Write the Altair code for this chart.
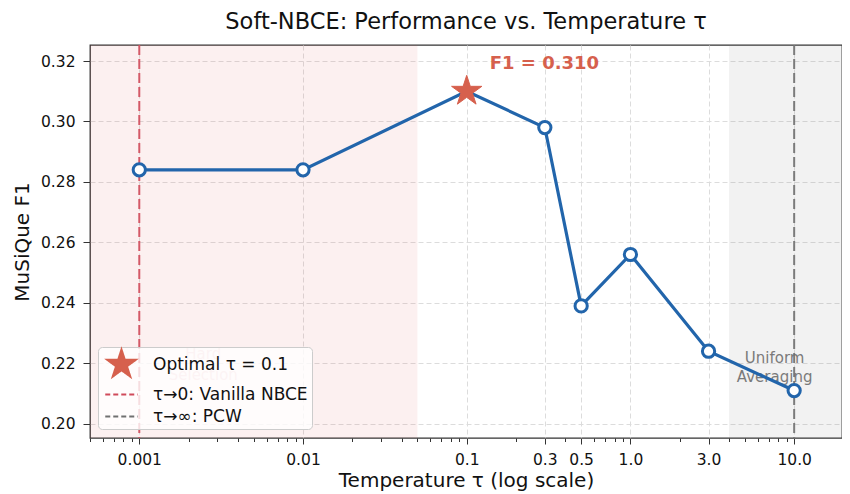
import math
import altair as alt
import pandas as pd

# ---------------- data ----------------
temps = [0.001, 0.01, 0.1, 0.3, 0.5, 1.0, 3.0, 10.0]
f1_scores = [0.284, 0.284, 0.310, 0.298, 0.239, 0.256, 0.224, 0.211]
best_temp = [0.1]
best_f1 = [0.310]
x_tick_values = [0.001, 0.01, 0.1, 0.3, 0.5, 1.0, 3.0, 10.0]
x_tick_labels = ["0.001", "0.01", "0.1", "0.3", "0.5", "1.0", "3.0", "10.0"]
y_tick_values = [0.20, 0.22, 0.24, 0.26, 0.28, 0.30, 0.32]
span_starts = [0.0005, 4.0]
span_ends = [0.05, 20.0]
span_names = ["hard", "uniform"]
ref_lines = [0.001, 10.0]
ref_names = ["vanilla", "pcw"]
legend_labels = ["Optimal τ = 0.1", "τ→0: Vanilla NBCE", "τ→∞: PCW"]
region_text = ["Hard\nSelection", "Uniform\nAveraging"]
region_text_x = [0.00246, 7.6]
region_text_y = [0.2232, 0.2218]

# ---------------- style ----------------
BLUE = "#2265ab"
STAR_RED = "#d6604d"
VLINE_RED = "#d04a5a"
GRAY = "#707070"
FONT = "DejaVu Sans"
x_domain = [0.0005, 19.6]
y_domain = [0.1953, 0.3253]

# minor ticks for log axis
minor = []
for e in range(-4, 2):
    for m in range(1, 10):
        v = float(f"{m}e{e}")
        if x_domain[0] <= v <= x_domain[1]:
            minor.append(v)
all_ticks = sorted(set(minor) | set(x_tick_values))

major_arr = "[" + ",".join(repr(v) for v in x_tick_values) + "]"
major_test = f"indexof({major_arr}, datum.value) >= 0"
label_expr = ""
for v, lab in zip(x_tick_values, x_tick_labels):
    label_expr += f"datum.value == {v!r} ? '{lab}' : "
label_expr += "''"


def star_path(R):
    pts = []
    for k in range(10):
        r = R if k % 2 == 0 else R * 0.382
        a = math.radians(-90 + 36 * k)
        pts.append(f"{r*math.cos(a):.4f},{r*math.sin(a):.4f}")
    return "M" + "L".join(pts) + "Z"


STAR_PLOT = star_path(1.3)
STAR_LEG = star_path(1.2)
LINE_SYM = "M-1.3,0L1.3,0"

xscale = alt.Scale(type="log", domain=x_domain, nice=False)
yscale = alt.Scale(domain=y_domain, nice=False, zero=False)

df = pd.DataFrame({"temp": temps, "f1": f1_scores})
df_best = pd.DataFrame({"temp": best_temp, "f1": best_f1,
                        "label": [f"F1 = {best_f1[0]:.3f}"]})
df_span = pd.DataFrame({"x0": span_starts, "x1": span_ends, "name": span_names})
df_ref = pd.DataFrame({"x": ref_lines, "name": ref_names})
df_txt = pd.DataFrame({"x": region_text_x, "y": region_text_y, "t": region_text})
df_leg = pd.DataFrame({"label": legend_labels, "x": [0.0001] * 3,
                       "y": [0.25] * 3})

x_axis = alt.Axis(
    values=all_ticks, labelExpr=label_expr, labelOverlap=False, labelFlush=False,
    labelBound=False,
    grid=True, gridDash=[5, 3], gridColor="#dcdcdc", gridWidth=1,
    gridOpacity={"condition": {"test": major_test, "value": 1}, "value": 0},
    tickSize={"condition": {"test": major_test, "value": 6}, "value": 3.5},
    tickColor="#333333", tickWidth=1, domain=False,
    labelFontSize=15.5, labelPadding=8, labelColor="#111111",
    title="Temperature τ (log scale)", titleFontSize=20,
    titleFontWeight="normal", titlePadding=3, titleColor="#111111",
)
y_axis = alt.Axis(
    values=y_tick_values, format=".2f", grid=True, gridDash=[5, 3],
    gridColor="#dcdcdc", gridWidth=1, tickSize=7, tickColor="#333333",
    domain=False, labelFontSize=15.5, labelPadding=8, labelColor="#111111",
    title="MuSiQue F1", titleFontSize=20, titleFontWeight="normal",
    titlePadding=8, titleColor="#111111",
)

base = alt.Chart(df)

spans = alt.Chart(df_span).mark_rect(clip=True).encode(
    x=alt.X("x0:Q", scale=xscale, axis=x_axis),
    x2="x1:Q",
    fill=alt.Fill("name:N", scale=alt.Scale(domain=span_names,
                                           range=["#d9534f", "#808080"]),
                  legend=None),
    opacity=alt.Opacity("name:N", scale=alt.Scale(domain=span_names,
                                                 range=[0.085, 0.1]),
                        legend=None),
)

refs = alt.Chart(df_ref).mark_rule(strokeWidth=2, strokeDash=[10, 4]).encode(
    x=alt.X("x:Q", scale=xscale),
    stroke=alt.Stroke("name:N", scale=alt.Scale(domain=ref_names,
                                               range=[VLINE_RED, GRAY]),
                      legend=None),
    opacity=alt.value(0.9),
)

hard_txt = alt.Chart(df_txt.iloc[[0]]).mark_text(
    fontSize=15, font=FONT, color="#e9a3a9", opacity=0.6, align="center",
    baseline="middle", lineBreak="\n", lineHeight=21,
).encode(x=alt.X("x:Q", scale=xscale), y=alt.Y("y:Q", scale=yscale), text="t:N")

uni_txt = alt.Chart(df_txt.iloc[[1]]).mark_text(
    fontSize=15, font=FONT, color="#6e6e6e", opacity=0.9, align="center",
    baseline="middle", lineBreak="\n", lineHeight=19,
).encode(x=alt.X("x:Q", scale=xscale), y=alt.Y("y:Q", scale=yscale), text="t:N")

line = base.mark_line(color=BLUE, strokeWidth=3.2).encode(
    x=alt.X("temp:Q", scale=xscale),
    y=alt.Y("f1:Q", scale=yscale, axis=y_axis),
)

pts_layer = base.transform_filter(f"datum.temp != {best_temp[0]}").mark_point(
    shape="circle", size=150, filled=True, fill="white", stroke=BLUE,
    strokeWidth=3, opacity=1,
).encode(x=alt.X("temp:Q", scale=xscale), y=alt.Y("f1:Q", scale=yscale))

star = alt.Chart(df_best).mark_point(
    shape=STAR_PLOT, size=600, filled=True, fill=STAR_RED, stroke=STAR_RED,
    strokeWidth=1, opacity=1,
).encode(x=alt.X("temp:Q", scale=xscale), y=alt.Y("f1:Q", scale=yscale))

ann = alt.Chart(df_best).mark_text(
    fontSize=18, fontWeight="bold", font=FONT, color=STAR_RED, align="left",
    baseline="middle", dx=23, dy=-27,
).encode(x=alt.X("temp:Q", scale=xscale), y=alt.Y("f1:Q", scale=yscale),
         text="label:N")

leg_def = alt.Legend(
    title=None, orient="none", legendX=8, legendY=302, direction="vertical",
    fillColor="rgba(255,255,255,0.8)", strokeColor="#cccccc", cornerRadius=4,
    padding=4, labelFontSize=17, labelFont=FONT, labelColor="#111111",
    symbolSize=625, symbolStrokeWidth=2, symbolOpacity=1,
    rowPadding=-1, labelOffset=18, symbolOffset=6, labelLimit=400,
)
legend_layer = alt.Chart(df_leg).mark_point(
    filled=False, fill=STAR_RED, clip=True, size=625, opacity=1
).encode(
    x=alt.X("x:Q", scale=xscale),
    y=alt.Y("y:Q", scale=yscale),
    color=alt.Color("label:N", scale=alt.Scale(domain=legend_labels,
                    range=[STAR_RED, VLINE_RED, GRAY]), legend=leg_def),
    shape=alt.Shape("label:N", scale=alt.Scale(domain=legend_labels,
                    range=[STAR_LEG, LINE_SYM, LINE_SYM]), legend=leg_def),
    strokeDash=alt.StrokeDash("label:N", scale=alt.Scale(domain=legend_labels,
                    range=[[1, 0], [5, 3], [5, 3]]), legend=leg_def),
)

chart = alt.layer(
    spans, refs, hard_txt, uni_txt, line, pts_layer, star, ann, legend_layer
).properties(
    width=752, height=393,
    title=alt.TitleParams("Soft-NBCE: Performance vs. Temperature τ",
                          fontSize=22.5, fontWeight="normal", font=FONT,
                          color="#111111", anchor="middle", offset=11),
    autosize=alt.AutoSizeParams(type="none"),
    padding={"left": 82, "top": 37, "right": 0, "bottom": 54},
).configure(font=FONT).configure_view(
    stroke="#333333", strokeWidth=1.3
).configure_axis(labelFont=FONT, titleFont=FONT)

chart.save("out.html", embed_options={"renderer": "svg", "actions": False})
